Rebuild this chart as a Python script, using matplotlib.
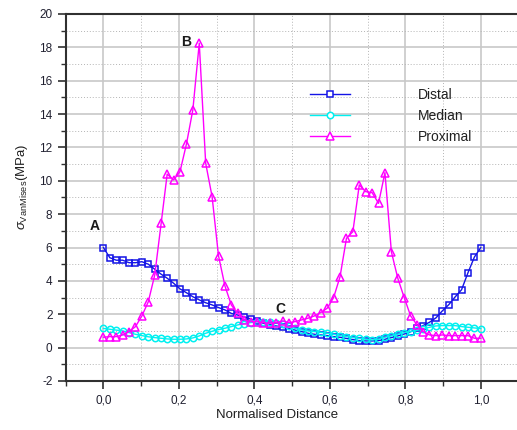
import numpy as np
import matplotlib.pyplot as plt
from matplotlib.ticker import MultipleLocator, FuncFormatter

plt.rcParams['font.family'] = ['Liberation Sans', 'DejaVu Sans']
plt.rcParams['mathtext.fontset'] = 'custom'
plt.rcParams['mathtext.rm'] = 'Liberation Sans'
plt.rcParams['mathtext.it'] = 'Liberation Sans:italic'

# Position le long de l'os (normalisée) et contraintes de Von Mises (MPa)
distance = [0.000, 0.017, 0.034, 0.051, 0.068, 0.085, 0.102, 0.119, 0.136, 0.153,
            0.169, 0.186, 0.203, 0.220, 0.237, 0.254, 0.271, 0.288, 0.305, 0.322,
            0.339, 0.356, 0.373, 0.390, 0.407, 0.424, 0.441, 0.458, 0.475, 0.492,
            0.508, 0.525, 0.542, 0.559, 0.576, 0.593, 0.610, 0.627, 0.644, 0.661,
            0.678, 0.695, 0.712, 0.729, 0.746, 0.763, 0.780, 0.797, 0.814, 0.831,
            0.847, 0.864, 0.881, 0.898, 0.915, 0.932, 0.949, 0.966, 0.983, 1.000]

distal = [6.00, 5.39, 5.24, 5.24, 5.09, 5.09, 5.15, 5.00, 4.70, 4.40,
          4.16, 3.86, 3.52, 3.29, 3.05, 2.86, 2.69, 2.56, 2.40, 2.26,
          2.05, 1.95, 1.85, 1.72, 1.58, 1.46, 1.38, 1.30, 1.22, 1.14,
          1.05, 0.96, 0.86, 0.80, 0.76, 0.72, 0.66, 0.62, 0.55, 0.48,
          0.42, 0.40, 0.40, 0.42, 0.50, 0.60, 0.70, 0.82, 0.95, 1.15,
          1.32, 1.52, 1.78, 2.20, 2.57, 3.04, 3.47, 4.49, 5.43, 6.00]

median = [1.15, 1.10, 1.05, 1.00, 0.90, 0.80, 0.72, 0.65, 0.60, 0.56,
          0.52, 0.50, 0.50, 0.52, 0.58, 0.70, 0.86, 0.98, 1.08, 1.16,
          1.26, 1.36, 1.44, 1.50, 1.54, 1.56, 1.55, 1.50, 1.40, 1.28,
          1.15, 1.06, 1.00, 0.96, 0.92, 0.86, 0.80, 0.72, 0.66, 0.60,
          0.55, 0.50, 0.46, 0.50, 0.62, 0.70, 0.80, 0.90, 0.96, 1.04,
          1.12, 1.22, 1.30, 1.32, 1.32, 1.32, 1.26, 1.22, 1.18, 1.14]

proximal = [0.62, 0.66, 0.66, 0.76, 0.96, 1.26, 1.90, 2.75, 4.35, 7.45,
            10.40, 10.05, 10.55, 12.20, 14.25, 18.25, 11.05, 9.05, 5.50, 3.70,
            2.55, 2.06, 1.66, 1.56, 1.56, 1.50, 1.46, 1.50, 1.60, 1.50,
            1.56, 1.66, 1.76, 1.90, 2.10, 2.36, 3.00, 4.25, 6.55, 6.95,
            9.75, 9.35, 9.29, 8.65, 10.49, 5.75, 4.16, 3.00, 1.90, 1.36,
            0.96, 0.76, 0.72, 0.76, 0.72, 0.72, 0.72, 0.72, 0.56, 0.56]

fig = plt.figure(figsize=(5.17, 4.30), dpi=100)
ax = fig.add_axes([0.127, 0.114, 0.876, 0.8535])

# Les trois courbes
ax.plot(distance, distal, color='#1414e6', lw=1.0, marker='s', ms=4.3,
        mfc='none', mew=1.1, label='Distal')
ax.plot(distance, median, color='#00f0f0', lw=1.0, marker='o', ms=4.6,
        mfc='none', mew=1.1, label='Median')
ax.plot(distance, proximal, color='#ff00ff', lw=1.0, marker='^', ms=5.2,
        mfc='none', mew=1.1, label='Proximal')

# Points remarquables
ax.text(-0.022, 7.31, 'A', ha='center', va='center', fontsize=10, fontweight='bold', color='#1a1a1a')
ax.text(0.218, 18.34, 'B', ha='center', va='center', fontsize=10, fontweight='bold', color='#1a1a1a')
ax.text(0.468, 2.30, 'C', ha='center', va='center', fontsize=10, fontweight='bold', color='#1a1a1a')

# Axes et graduations
ax.set_xlim(-0.1, 1.1)
ax.set_ylim(-2, 20)
ax.xaxis.set_major_locator(MultipleLocator(0.2))
ax.xaxis.set_minor_locator(MultipleLocator(0.1))
ax.yaxis.set_major_locator(MultipleLocator(2))
ax.yaxis.set_minor_locator(MultipleLocator(1))
ax.xaxis.set_major_formatter(FuncFormatter(lambda v, p: f'{v:.1f}'.replace('.', ',')))
ax.yaxis.set_major_formatter(FuncFormatter(lambda v, p: f'{v:.0f}'))

ax.tick_params(which='major', direction='out', length=6, width=1.2,
               labelsize=8.5, labelcolor='#202030', color='#303030')
ax.tick_params(which='minor', direction='out', length=3.5, width=1.0, color='#303030')

ax.grid(which='major', color='#c8c8c8', lw=1.2)
ax.grid(which='minor', color='#b4b4b4', lw=0.7, ls=(0, (1, 2)))
ax.set_axisbelow(True)

for side in ['left', 'bottom', 'top']:
    ax.spines[side].set_linewidth(1.5)
    ax.spines[side].set_color('#303030')
ax.spines['right'].set_visible(False)

ax.set_xlabel('Normalised Distance', fontsize=9.5, color='#202020')
ax.set_ylabel(r'$\sigma_{\mathrm{VanMises}}$(MPa)', fontsize=9.5, color='#202020')
ax.xaxis.set_label_coords(0.466, -0.075)
ax.yaxis.set_label_coords(-0.078, 0.53)

# Légende sans cadre
leg = ax.legend(loc='upper left', bbox_to_anchor=(0.5386, 0.798), frameon=False,
                borderaxespad=0, borderpad=0, handlelength=2.9, handletextpad=4.9,
                labelspacing=0.5, fontsize=10, labelcolor='#202020')
for h in leg.legend_handles:
    h.set_markerfacecolor('white')

fig.savefig('out.png', dpi=100)
